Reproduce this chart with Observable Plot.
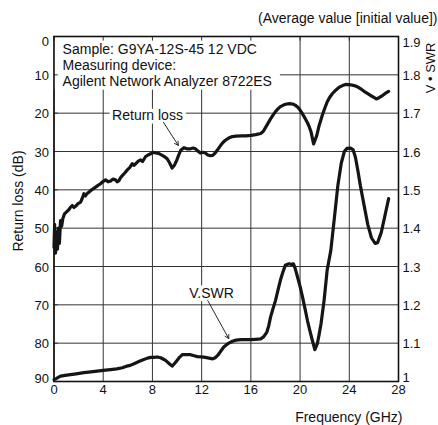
<!DOCTYPE html>
<html><head><meta charset="utf-8">
<script src="https://cdn.jsdelivr.net/npm/d3@7"></script>
<script src="https://cdn.jsdelivr.net/npm/@observablehq/plot@0.6"></script>
<style>body{margin:0;background:#fff;}</style>
</head><body><div id="chart"></div>
<script>
// Return loss (dB) vs frequency (GHz)
const rlFreq = [0.0,0.05,0.12,0.2,0.28,0.36,0.44,0.53,0.62,0.72,0.85,1.0,1.2,1.35,1.48,1.62,1.75,1.95,2.16,2.3,2.43,2.55,2.7,2.85,2.97,3.15,3.38,3.55,3.78,3.95,4.19,4.4,4.6,4.8,5.0,5.15,5.28,5.42,5.55,5.75,5.96,6.15,6.36,6.5,6.7,6.85,7.04,7.2,7.45,7.65,7.85,8.05,8.26,8.5,8.8,9.0,9.2,9.4,9.6,9.8,9.97,10.15,10.3,10.56,10.8,11.1,11.3,11.5,11.7,11.9,12.1,12.3,12.5,12.7,12.9,13.1,13.3,13.55,13.75,13.96,14.2,14.5,14.8,15.2,15.6,16.0,16.4,16.8,17.0,17.2,17.4,17.6,17.8,18.0,18.2,18.4,18.65,18.9,19.15,19.4,19.6,19.8,20.0,20.2,20.4,20.6,20.75,20.9,21.0,21.1,21.2,21.36,21.55,21.8,22.0,22.2,22.4,22.6,22.9,23.2,23.45,23.7,24.1,24.4,24.7,25.0,25.2,25.5,25.75,26.0,26.2,26.45,26.7,26.95,27.2];
const rlDb = [55,49,56.5,51,55.5,50,54,48,49.5,47.5,46.3,45.8,45.2,44.5,44.1,44.6,44.3,43.6,43.2,42.2,41.0,41.6,40.9,40.6,40.2,39.8,39.3,38.9,38.4,37.9,37.4,37.9,37.7,37.2,37.4,37.9,37.6,36.8,36.3,35.6,34.8,34.2,33.2,33.6,33.0,32.5,32.2,32.6,31.3,30.9,30.6,30.2,30.4,30.5,31.0,31.4,31.9,33.0,34.3,33.5,32.3,30.8,29.7,29.0,29.3,29.3,29.1,29.3,29.9,30.4,30.2,30.4,30.9,31.1,31.0,30.4,29.5,28.4,27.6,27.0,26.5,26.1,26.0,25.9,25.9,25.8,25.6,25.3,24.8,23.7,22.6,21.5,20.5,19.6,18.9,18.3,17.9,17.6,17.5,17.6,17.9,18.4,19.2,20.2,21.3,22.5,23.6,25.0,26.5,28.0,27.2,25.8,23.2,20.6,18.8,17.1,15.9,15.0,14.0,13.2,12.8,12.5,12.6,12.8,13.2,13.8,14.3,14.9,15.4,15.9,16.3,15.9,15.4,14.8,14.3];

// V.SWR vs frequency (GHz)
const vswrFreq = [0,0.2,0.53,0.9,1.34,1.8,2.43,3.0,3.5,4.0,4.6,5.1,5.55,5.9,6.2,6.55,6.9,7.2,7.6,7.85,8.1,8.4,8.67,8.9,9.07,9.35,9.6,9.8,10.0,10.2,10.43,10.8,11.1,11.4,11.65,12.0,12.3,12.6,12.9,13.1,13.3,13.55,13.8,14.1,14.5,14.8,15.2,15.6,16.0,16.4,16.8,17.05,17.3,17.45,17.6,17.8,18.0,18.2,18.4,18.6,18.8,19.1,19.3,19.46,19.6,19.8,20.0,20.2,20.4,20.6,20.8,21.0,21.2,21.4,21.55,21.7,21.95,22.2,22.5,22.8,23.07,23.35,23.6,23.8,24.1,24.3,24.5,24.7,24.9,25.2,25.5,25.8,26.1,26.3,26.6,26.9,27.2];
const vswrVal = [1.005,1.008,1.014,1.016,1.018,1.020,1.023,1.025,1.027,1.029,1.031,1.033,1.036,1.040,1.042,1.047,1.052,1.056,1.061,1.063,1.063,1.064,1.062,1.058,1.055,1.047,1.040,1.047,1.055,1.063,1.070,1.070,1.070,1.067,1.065,1.064,1.063,1.061,1.059,1.062,1.068,1.079,1.090,1.098,1.105,1.108,1.109,1.109,1.109,1.110,1.111,1.117,1.129,1.145,1.168,1.19,1.211,1.238,1.264,1.285,1.303,1.307,1.305,1.307,1.295,1.272,1.248,1.22,1.19,1.159,1.132,1.107,1.083,1.098,1.123,1.15,1.211,1.29,1.342,1.43,1.511,1.57,1.60,1.608,1.609,1.605,1.585,1.55,1.511,1.46,1.41,1.375,1.36,1.362,1.389,1.433,1.477];

const freqTicks = [0,4,8,12,16,20,24,28];
const dbTicks = [0,10,20,30,40,50,60,70,80,90];
const vswrTickLabels = ["1.9","1.8","1.7","1.6","1.5","1.4","1.3","1.2","1.1","1"];
const infoLines = ["Sample: G9YA-12S-45 12 VDC","Measuring device:","Agilent Network Analyzer 8722ES"];
const titleText = "(Average value [initial value])";
const xLabel = "Frequency (GHz)";
const yLabelLeft = "Return loss (dB)";
const yLabelRight = "V • SWR";
const rlLabel = "Return loss";
const vswrLabel = "V.SWR";

// tables built from the arrays
const rl = rlFreq.map((f, i) => ({f, y: rlDb[i]}));
const vs = vswrFreq.map((f, i) => ({f, y: (1.9 - vswrVal[i]) * 100})); // V.SWR mapped onto the shared 0–90 axis

// annotation placement (data units)
const infoPos = [{x: 0.7, y: 3.4}, {x: 0.7, y: 7.6}, {x: 0.7, y: 11.7}];
const infoBox = {x1: 0, x2: 18.4, y1: 0, y2: 14};
const rlLabelPos = {x: 7.6, y: 20.6};
const rlArrow = {x1: 8.9, y1: 22.4, x2: 10.1, y2: 28.4};
const vsLabelPos = {x: 12.8, y: 67.1};
const vsArrow = {x1: 12.5, y1: 68.9, x2: 14.2, y2: 78.8};

const FONT = "Liberation Sans, Arial, Helvetica, sans-serif";
const innerTicks = dbTicks.slice(1, -1);
const lastTick = dbTicks[dbTicks.length - 1];
const rightFmt = d => vswrTickLabels[dbTicks.indexOf(d)];

const chart = Plot.plot({
  width: 438,
  height: 425,
  marginLeft: 53.5,
  marginRight: 40,
  marginTop: 36,
  marginBottom: 44,
  style: {fontFamily: FONT, fontSize: "13px", color: "#111", background: "#fff"},
  x: {domain: [0, 28]},
  y: {domain: [0, 90], reverse: true},
  marks: [
    Plot.ruleX(freqTicks, {stroke: "#333", strokeWidth: 1}),
    Plot.ruleY(dbTicks, {stroke: "#333", strokeWidth: 1}),
    Plot.rect([infoBox], {x1: "x1", x2: "x2", y1: "y1", y2: "y2", fill: "white"}),
    Plot.ruleX(freqTicks, {y1: 0, y2: 1.2, stroke: "#333", strokeWidth: 1}),
    Plot.ruleY(dbTicks, {x1: 0, x2: 0.35, stroke: "#333", strokeWidth: 1}),
    Plot.frame({stroke: "#111", strokeWidth: 1.6}),
    Plot.axisX({ticks: freqTicks, tickSize: 0, tickPadding: 3, label: null, fontSize: 13}),
    Plot.axisY({anchor: "left", ticks: innerTicks, tickSize: 0, tickPadding: 5, label: null, fontSize: 13, dy: 1}),
    Plot.axisY({anchor: "left", ticks: [dbTicks[0]], tickSize: 0, tickPadding: 5, label: null, fontSize: 13, dy: 5}),
    Plot.axisY({anchor: "left", ticks: [lastTick], tickSize: 0, tickPadding: 5, label: null, fontSize: 13, dy: -3}),
    Plot.axisY({anchor: "right", ticks: innerTicks, tickSize: 0, tickPadding: 4, label: null, fontSize: 13, dy: 1, tickFormat: rightFmt}),
    Plot.axisY({anchor: "right", ticks: [dbTicks[0]], tickSize: 0, tickPadding: 4, label: null, fontSize: 13, dy: 6, tickFormat: rightFmt}),
    Plot.axisY({anchor: "right", ticks: [lastTick], tickSize: 0, tickPadding: 4, label: null, fontSize: 13, dy: -4, tickFormat: rightFmt}),
    Plot.text(infoLines, {x: (d, i) => infoPos[i].x, y: (d, i) => infoPos[i].y, text: d => d,
      textAnchor: "start", lineAnchor: "middle", fontSize: 14, fill: "#111"}),
    Plot.text([rlLabel], {x: rlLabelPos.x, y: rlLabelPos.y, text: d => d, fontSize: 14, fill: "#111",
      stroke: "white", strokeWidth: 7, paintOrder: "stroke"}),
    Plot.text([vswrLabel], {x: vsLabelPos.x, y: vsLabelPos.y, text: d => d, fontSize: 14, fill: "#111",
      stroke: "white", strokeWidth: 7, paintOrder: "stroke"}),
    Plot.line(rl, {x: "f", y: "y", stroke: "#151515", strokeWidth: 3.2, strokeLinejoin: "round", strokeLinecap: "round"}),
    Plot.line(vs, {x: "f", y: "y", stroke: "#151515", strokeWidth: 3.2, strokeLinejoin: "round", strokeLinecap: "round"}),
    Plot.arrow([rlArrow], {x1: "x1", y1: "y1", x2: "x2", y2: "y2", stroke: "#111", strokeWidth: 0.9, headLength: 7}),
    Plot.arrow([vsArrow], {x1: "x1", y1: "y1", x2: "x2", y2: "y2", stroke: "#111", strokeWidth: 0.9, headLength: 7}),
    Plot.text([titleText], {frameAnchor: "top-right", dx: 39, dy: -18, textAnchor: "end", lineAnchor: "middle", fontSize: 14, fill: "#111"}),
    Plot.text([xLabel], {frameAnchor: "bottom-right", dx: 4, dy: 36, textAnchor: "end", lineAnchor: "middle", fontSize: 14, fill: "#111"}),
    Plot.text([yLabelLeft], {frameAnchor: "left", dx: -35, dy: -8, rotate: -90, textAnchor: "middle", lineAnchor: "middle", fontSize: 14, fill: "#111"}),
    Plot.text([yLabelRight], {frameAnchor: "top-right", dx: 32, dy: 6, rotate: -90, textAnchor: "end", lineAnchor: "middle", fontSize: 13, fill: "#111"})
  ]
});
document.getElementById("chart").appendChild(chart);
</script>
</body></html>
